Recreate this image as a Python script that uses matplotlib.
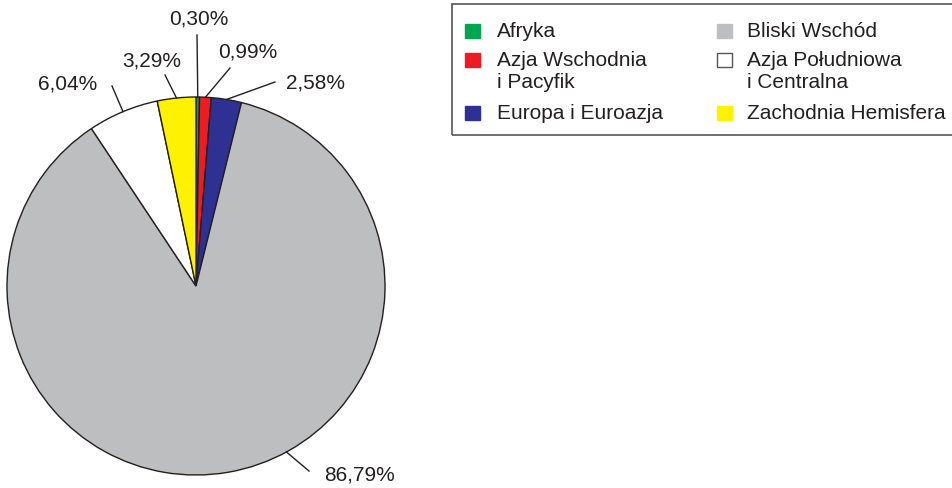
import numpy as np
import matplotlib
matplotlib.use('Agg')
import matplotlib.pyplot as plt
from matplotlib.patches import Rectangle

matplotlib.rcParams['font.family'] = ['Liberation Sans', 'DejaVu Sans']

# dane
regiony = ['Afryka', 'Azja Wschodnia\ni Pacyfik', 'Europa i Euroazja',
           'Bliski Wschód', 'Azja Południowa\ni Centralna', 'Zachodnia Hemisfera']
udzialy = [0.30, 0.99, 2.58, 86.79, 6.04, 3.29]
etykiety = ['0,30%', '0,99%', '2,58%', '86,79%', '6,04%', '3,29%']
kolory = ['#00a651', '#ed1c24', '#2e3192', '#bcbec0', '#ffffff', '#fff200']

W, H = 953, 488
fig = plt.figure(figsize=(W / 100, H / 100), dpi=100)
ax = fig.add_axes([0, 0, 1, 1])

# uklad w pikselach (y od gory obrazka)
cx, cy, r = 196, 286, 189
# gdzie w klinie zaczyna sie linia (ulamek kata od theta1)
start_linii = [0.5, 0.5, 0.5, 0.56, 0.5, 0.5]
# koniec linii odniesienia i srodek tekstu dla kazdej etykiety
linia_kon = [(197, 35), (230, 68), (275, 82), (309, 471), (112, 86), (165, 75)]
tekst_poz = [(199, 19), (248, 52), (316, 83), (360, 475), (68, 84), (152, 61)]

ciemny = '#231f20'
wedges, _ = ax.pie(udzialy, colors=kolory, startangle=90, counterclock=False,
                   center=(cx, H - cy), radius=r,
                   wedgeprops=dict(edgecolor=ciemny, linewidth=1.0))

for w, f, lab, (lx, ly), (tx, ty) in zip(wedges, start_linii, etykiety, linia_kon, tekst_poz):
    kat = np.deg2rad(w.theta1 + f * (w.theta2 - w.theta1))
    x0 = cx + r * np.cos(kat)
    y0 = (H - cy) + r * np.sin(kat)
    ax.plot([x0, lx], [y0, H - ly], color=ciemny, linewidth=1.0)
    ax.text(tx, H - ty, lab, ha='center', va='center', fontsize=15, color=ciemny)

# legenda rysowana recznie
ax.add_patch(Rectangle((452, H - 135), 520, 131, facecolor='none',
                       edgecolor='#555555', linewidth=1.2, clip_on=False))
kol_x = [(465, 497), (717, 747)]
wiersz_y = [31, 60, 113]
for i, (nazwa, kolor) in enumerate(zip(regiony, kolory)):
    kx, tx = kol_x[i // 3]
    y = wiersz_y[i % 3]
    ax.add_patch(Rectangle((kx, H - y - 7), 15, 14, facecolor=kolor,
                           edgecolor='#555555' if kolor == '#ffffff' else kolor,
                           linewidth=1.0))
    ax.text(tx, H - y + 9, nazwa, ha='left', va='top', fontsize=15,
            color=ciemny, linespacing=1.2)

ax.set_xlim(0, W)
ax.set_ylim(0, H)
ax.set_aspect('equal')
ax.axis('off')

fig.savefig('out.png', dpi=100)
